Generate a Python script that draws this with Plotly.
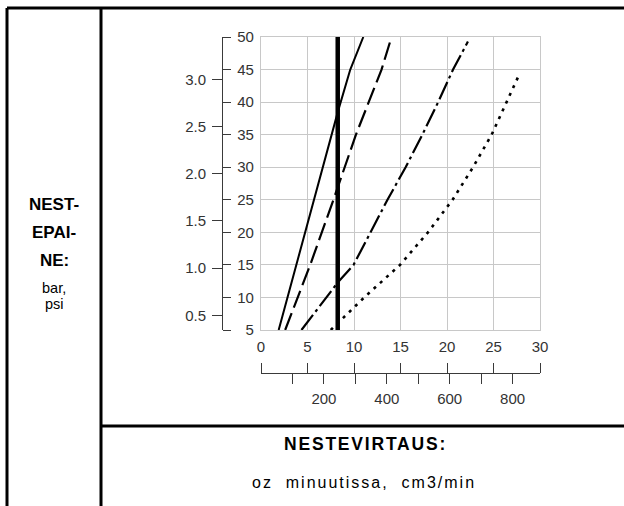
import plotly.graph_objects as go

FIG_W, FIG_H = 624, 506
FONT = "Liberation Sans, Arial, Helvetica, sans-serif"

# Axis scales
PSI_TICKS = [5, 10, 15, 20, 25, 30, 35, 40, 45, 50]
BAR_TICKS = [0.5, 1.0, 1.5, 2.0, 2.5, 3.0]
OZ_TICKS = [0, 5, 10, 15, 20, 25, 30]
CM3_TICKS = [100, 200, 300, 400, 500, 600, 700, 800]
CM3_LABELS = ["", "200", "", "400", "", "600", "", "800"]
PSI_PER_BAR = 14.5
CM3_PER_OZ = 29.57

# Nozzle flow limit (oz/min)
nozzle_oz = 8.25

# Pressure (psi) vs flow (oz/min) for each nozzle curve
solid_oz = [1.9, 8.26, 9.6, 11.0]
solid_psi = [5, 38.5, 45, 50]

longdash_oz = [2.6, 5.29, 7.79, 10.21, 12.96, 14.04]
longdash_psi = [5, 15, 25, 35, 45, 50]

dashdot_oz = [4.35, 7.07, 8.26, 9.95, 11.8, 13.6, 15.55, 17.35, 19.05, 20.65, 22.25]
dashdot_psi = [5, 10, 12.3, 15, 20, 25, 30, 35, 40, 45, 49.3]

dotted_oz = [7.5, 11.1, 14.95, 17.95, 20.6, 22.8, 24.8, 26.4, 27.85]
dotted_psi = [5, 10, 15, 20, 25, 30, 35, 40, 44.5]


def px(x):
    return x / FIG_W


def py(y):
    return 1 - y / FIG_H


fig = go.Figure()

line_specs = [
    (solid_oz, solid_psi, "solid", 2),
    (longdash_oz, longdash_psi, "18px,6px", 2.2),
    (dashdot_oz, dashdot_psi, "19px,4px,3px,4px", 2.2),
    (dotted_oz, dotted_psi, "3px,5.5px", 2.6),
]
for xs, ys, dash, w in line_specs:
    fig.add_trace(go.Scatter(
        x=xs, y=ys, mode="lines",
        line=dict(color="black", width=w, dash=dash),
        showlegend=False, hoverinfo="skip",
    ))

fig.add_trace(go.Scatter(
    x=[nozzle_oz, nozzle_oz], y=[PSI_TICKS[0], PSI_TICKS[-1]], mode="lines",
    line=dict(color="black", width=4.5),
    showlegend=False, hoverinfo="skip",
))

# Empty traces so the extra scales are drawn
for xa, ya in [("x", "y2"), ("x", "y3"), ("x2", "y"), ("x3", "y")]:
    fig.add_trace(go.Scatter(x=[None], y=[None], xaxis=xa, yaxis=ya,
                             showlegend=False, hoverinfo="skip"))

AX_COLOR = "#3a3a3a"
TICK_FONT = dict(family=FONT, size=15, color="#333333")
GRID = "#c8c8c8"

psi_text = [("\u2007" + str(v)) if v < 10 else str(v) for v in PSI_TICKS]
bar_text = [f"{v:.1f}" for v in BAR_TICKS]

fig.update_layout(
    width=FIG_W, height=FIG_H, autosize=False,
    margin=dict(l=0, r=0, t=0, b=0, autoexpand=False),
    paper_bgcolor="white", plot_bgcolor="white",
    font=dict(family=FONT),
    xaxis=dict(
        domain=[px(261), px(540)], range=[0, 30], tickvals=OZ_TICKS,
        showticklabels=False, ticks="", showgrid=True, gridcolor=GRID,
        gridwidth=1, zeroline=False, showline=True, linecolor=GRID,
        linewidth=1, mirror=True, automargin=False,
    ),
    yaxis=dict(
        domain=[py(330), py(37)], range=[5, 50], tickvals=PSI_TICKS,
        showticklabels=False, ticks="", showgrid=True, gridcolor=GRID,
        gridwidth=1, zeroline=False, showline=True, linecolor=GRID,
        linewidth=1, mirror=True, automargin=False,
    ),
    yaxis2=dict(
        overlaying="y", anchor="free", position=px(222), side="right",
        range=[5, 50], tickvals=PSI_TICKS, ticktext=psi_text,
        ticks="outside", ticklen=8, tickwidth=1.3, tickcolor=AX_COLOR,
        showline=True, linecolor=AX_COLOR, linewidth=1.3,
        showgrid=False, zeroline=False, tickfont=TICK_FONT,
        ticklabelstandoff=3, automargin=False,
    ),
    yaxis3=dict(
        overlaying="y", anchor="free", position=px(222), side="left",
        range=[5 / PSI_PER_BAR, 50 / PSI_PER_BAR], tickvals=BAR_TICKS,
        ticktext=bar_text, ticks="outside", ticklen=10, tickwidth=1.3,
        tickcolor=AX_COLOR, showline=False, showgrid=False, zeroline=False,
        tickfont=TICK_FONT, ticklabelstandoff=3, automargin=False,
    ),
    xaxis2=dict(
        overlaying="x", anchor="free", position=py(373), side="top",
        range=[0, 30], tickvals=OZ_TICKS, ticks="outside", ticklen=10,
        tickwidth=1.3, tickcolor=AX_COLOR, showline=True,
        linecolor=AX_COLOR, linewidth=1.3, showgrid=False, zeroline=False,
        tickfont=TICK_FONT, ticklabelstandoff=5, automargin=False,
    ),
    xaxis3=dict(
        overlaying="x", anchor="free", position=py(373), side="bottom",
        range=[0, 30 * CM3_PER_OZ], tickvals=CM3_TICKS, ticktext=CM3_LABELS,
        ticks="outside", ticklen=10, tickwidth=1.3, tickcolor=AX_COLOR,
        showline=False, showgrid=False, zeroline=False,
        tickfont=TICK_FONT, ticklabelstandoff=2, automargin=False,
    ),
)

# Table frame
BORDER = dict(color="black", width=3)
for x0, y0, x1, y1 in [(7, 8, 624, 8), (7, 8, 7, 506), (101, 8, 101, 506),
                       (101, 426, 624, 426)]:
    fig.add_shape(type="line", xref="paper", yref="paper",
                  x0=px(x0), y0=py(y0), x1=px(x1), y1=py(y1), line=BORDER)

# Table labels
labels = [
    ("<b>NEST-</b>", 54, 204, 17),
    ("<b>EPAI-</b>", 54, 232, 17),
    ("<b>NE:</b>", 54, 260, 17),
    ("bar,", 54, 288, 14.5),
    ("psi", 54, 304, 14.5),
    ('<b><span style="letter-spacing:1.8px">NESTEVIRTAUS:</span></b>', 365, 444, 17.5),
    ('<span style="letter-spacing:2px">oz\u00a0 minuutissa,\u00a0 cm3/min</span>', 364, 482, 16),
]
for text, x, y, size in labels:
    fig.add_annotation(text=text, xref="paper", yref="paper", x=px(x), y=py(y),
                       xanchor="center", yanchor="middle", showarrow=False,
                       font=dict(family=FONT, size=size, color="black"))

fig.write_html("out.html")
